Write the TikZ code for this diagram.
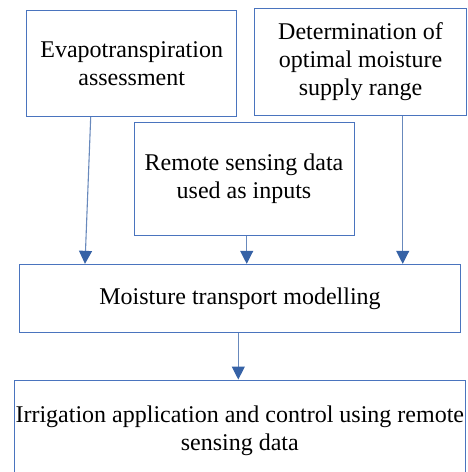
\documentclass[tikz,border=0pt]{standalone}
\usepackage{fontspec}
\setmainfont{Liberation Serif}
\usetikzlibrary{arrows.meta}

\definecolor{boxblue}{RGB}{74,116,190}
\definecolor{arrowblue}{RGB}{54,98,166}

\tikzset{
  stage/.style={draw=boxblue, line width=0.9pt, fill=white, align=center,
    inner sep=0pt, font=\fontsize{24}{28}\selectfont},
  flow/.style={draw=arrowblue!75, line width=1.1pt,
    -{Triangle[length=13pt,width=13pt,fill=arrowblue,color=arrowblue]}}
}

\begin{document}
\begin{tikzpicture}[x=1pt,y=-1pt]
\clip (0,0) rectangle (468,472);

\node[stage, minimum width=210pt, minimum height=106.7pt] (et) at (131.7,63.3)
  {Evapotranspiration\\assessment};
\node[stage, minimum width=212.4pt, minimum height=107.4pt] (range) at (360.5,62)
  {Determination of\\optimal moisture\\supply range};
\node[stage, minimum width=220pt, minimum height=113.7pt] (rs) at (244,179)
  {Remote sensing data\\used as inputs};
\node[stage, minimum width=441.7pt, minimum height=68.4pt] (model) at (240,298.5)
  {Moisture transport modelling};
\node[stage, minimum width=451.7pt, minimum height=102pt] (irr) at (239.8,431)
  {Irrigation application and control using remote\\sensing data};

% inputs into the model
\draw[flow] (90.7,0 |- et.south) -- (85,0 |- model.north);
\draw[flow] (246.7,0 |- rs.south) -- (246.7,0 |- model.north);
\draw[flow] (402.7,0 |- range.south) -- (402.7,0 |- model.north);

% model to irrigation
\draw[flow] (238.3,0 |- model.south) -- (238.3,0 |- irr.north);
\end{tikzpicture}
\end{document}
